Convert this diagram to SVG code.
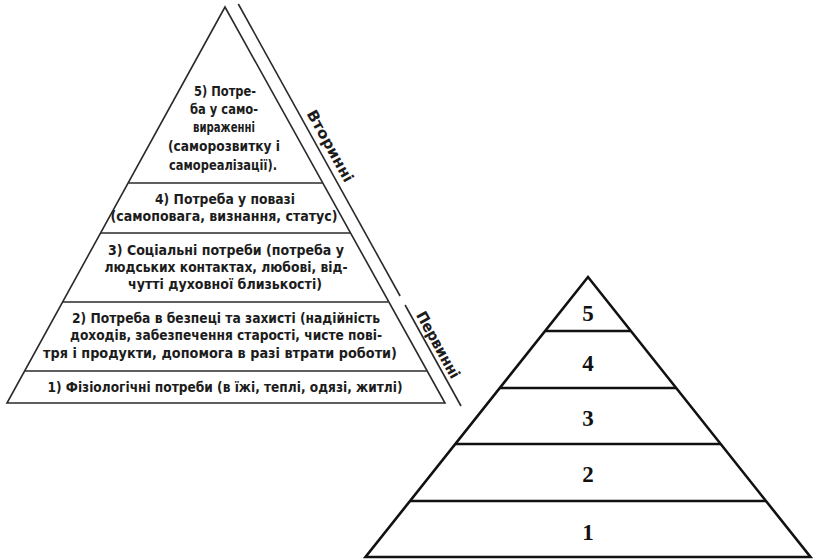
<svg xmlns="http://www.w3.org/2000/svg" width="815" height="560" viewBox="0 0 815 560">
<style>
.lp{fill:none;stroke:#2a2a2a;stroke-width:1.6;stroke-linejoin:miter}
.ln{stroke:#2a2a2a;stroke-width:1.6}
.t{font-family:"Liberation Sans Narrow","DejaVu Sans Condensed","Liberation Sans",sans-serif;font-weight:bold;font-size:14.5px;fill:#1c1c1c;text-anchor:middle}
.side{font-family:"Liberation Sans Narrow","DejaVu Sans Condensed","Liberation Sans",sans-serif;font-weight:bold;font-size:15px;fill:#1c1c1c;text-anchor:middle}
.rp{fill:none;stroke:#111;stroke-width:2.6;stroke-linejoin:miter}
.rl{stroke:#111;stroke-width:2.6}
.num{font-family:"Liberation Serif","DejaVu Serif",serif;font-weight:bold;font-size:23px;fill:#111;text-anchor:middle}
</style>

<g id="left-pyramid">
  <polygon class="lp" points="225,7 7,403 445,403"/>
  <g id="level5">
    <text class="t" x="225" y="96" textLength="62" lengthAdjust="spacingAndGlyphs">5) Потре-</text>
    <text class="t" x="224" y="114" textLength="68" lengthAdjust="spacingAndGlyphs">ба у само-</text>
    <text class="t" x="224" y="132" textLength="62" lengthAdjust="spacingAndGlyphs">вираженні</text>
    <text class="t" x="224" y="151" textLength="112" lengthAdjust="spacingAndGlyphs">(саморозвитку і</text>
    <text class="t" x="223" y="170" textLength="108" lengthAdjust="spacingAndGlyphs">самореалізації).</text>
  </g>
  <g id="level4">
    <line class="ln" x1="128.4" y1="183" x2="322.5" y2="183"/>
    <text class="t" x="225" y="204" textLength="140" lengthAdjust="spacingAndGlyphs">4) Потреба у повазі</text>
    <text class="t" x="224" y="221" textLength="227" lengthAdjust="spacingAndGlyphs">(самоповага, визнання, статус)</text>
  </g>
  <g id="level3">
    <line class="ln" x1="100.9" y1="233" x2="350.2" y2="233"/>
    <text class="t" x="226" y="255" textLength="236" lengthAdjust="spacingAndGlyphs">3) Соціальні потреби (потреба у</text>
    <text class="t" x="226" y="272" textLength="243" lengthAdjust="spacingAndGlyphs">людських контактах, любові, від-</text>
    <text class="t" x="225" y="289" textLength="194" lengthAdjust="spacingAndGlyphs">чутті духовної близькості)</text>
  </g>
  <g id="level2">
    <line class="ln" x1="63" y1="302" x2="388.4" y2="302"/>
    <text class="t" x="226" y="323" textLength="308" lengthAdjust="spacingAndGlyphs">2) Потреба в безпеці та захисті (надійність</text>
    <text class="t" x="226" y="340" textLength="312" lengthAdjust="spacingAndGlyphs">доходів, забезпечення старості, чисте пові-</text>
    <text class="t" x="220" y="358" textLength="354" lengthAdjust="spacingAndGlyphs">тря і продукти, допомога в разі втрати роботи)</text>
  </g>
  <g id="level1">
    <line class="ln" x1="25.2" y1="371" x2="426.7" y2="371"/>
    <text class="t" x="225" y="392" textLength="355" lengthAdjust="spacingAndGlyphs">1) Фізіологічні потреби (в їжі, теплі, одязі, житлі)</text>
  </g>
</g>

<g id="connectors">
  <line class="ln" x1="238.3" y1="4" x2="400.1" y2="296"/>
  <line class="ln" x1="405.1" y1="305" x2="461" y2="406"/>
</g>

<g id="label-secondary">
  <text class="side" transform="translate(330,146) rotate(61)" y="5" textLength="80" lengthAdjust="spacingAndGlyphs">Вторинні</text>
</g>
<g id="label-primary">
  <text class="side" transform="translate(438,345) rotate(61)" y="5" textLength="74" lengthAdjust="spacingAndGlyphs">Первинні</text>
</g>

<g id="right-pyramid">
  <polygon class="rp" points="588,277 365.5,557 810.5,557"/>
  <g id="r5"><text class="num" x="588" y="321">5</text></g>
  <g id="r4"><line class="rl" x1="545.1" y1="331" x2="630.9" y2="331"/><text class="num" x="588" y="371">4</text></g>
  <g id="r3"><line class="rl" x1="499.8" y1="388" x2="676.2" y2="388"/><text class="num" x="588" y="426">3</text></g>
  <g id="r2"><line class="rl" x1="455.3" y1="444" x2="720.7" y2="444"/><text class="num" x="588" y="482">2</text></g>
  <g id="r1"><line class="rl" x1="410" y1="501" x2="766" y2="501"/><text class="num" x="588" y="540">1</text></g>
</g>
</svg>
